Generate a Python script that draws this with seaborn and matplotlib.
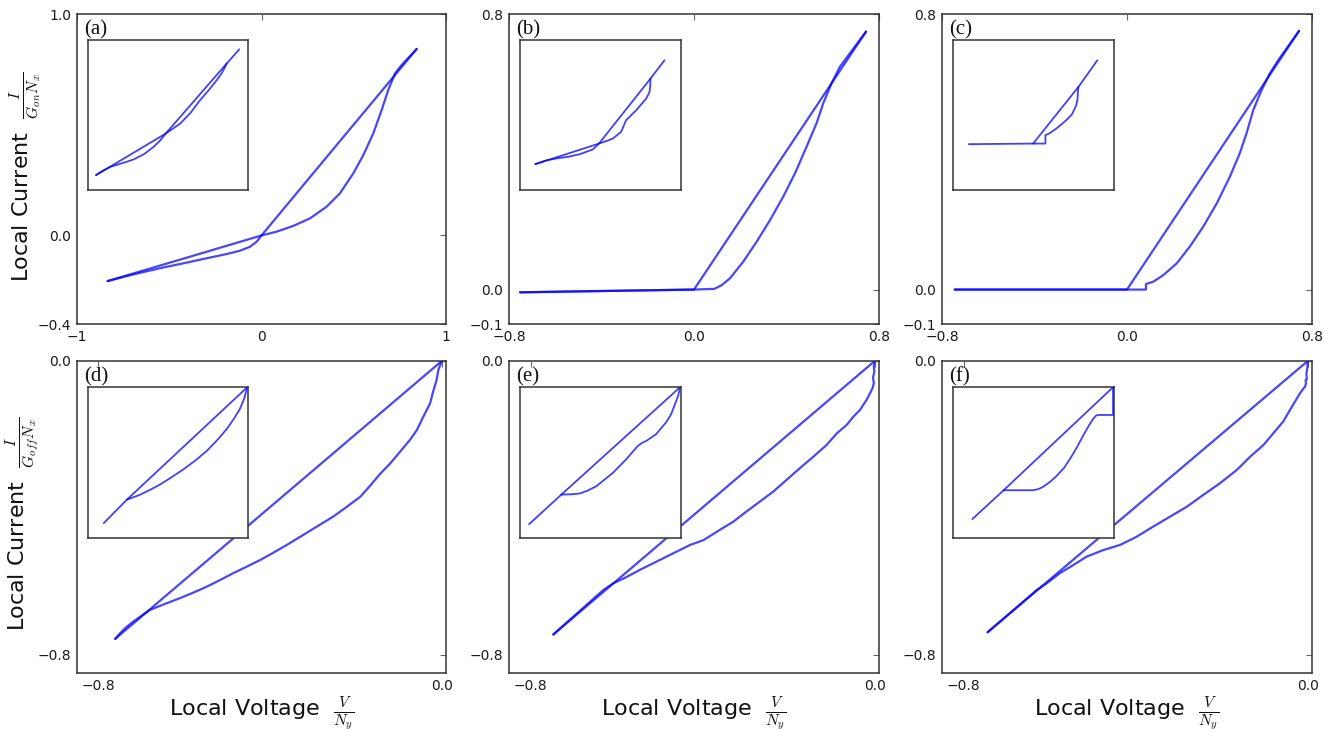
import numpy as np
import matplotlib
matplotlib.use("Agg")
import matplotlib.pyplot as plt
import seaborn as sns

# ---------------- data ----------------
# panel (a)
a_on_x = [0.841, 0.420, 0.0, -0.026, -0.062, -0.117, -0.189, -0.297, -0.424, -0.550, -0.695, -0.834]
a_on_y = [0.842, 0.421, 0.0, -0.028, -0.051, -0.069, -0.084, -0.103, -0.126, -0.148, -0.176, -0.206]
a_off_x = [-0.834, -0.400, 0.0, 0.082, 0.172, 0.263, 0.353, 0.425, 0.498, 0.552, 0.606,
           0.651, 0.687, 0.724, 0.760, 0.841]
a_off_y = [-0.206, -0.099, 0.0, 0.017, 0.043, 0.077, 0.130, 0.190, 0.281, 0.363, 0.461,
           0.566, 0.657, 0.732, 0.770, 0.842]
# panel (b)
b_on_x = [0.744, 0.0, -0.752]
b_on_y = [0.749, 0.0, -0.008]
b_off_x = [-0.752, 0.0, 0.088, 0.120, 0.156, 0.213, 0.271, 0.329, 0.386, 0.437, 0.487,
           0.530, 0.559, 0.595, 0.631, 0.674, 0.744]
b_off_y = [-0.008, 0.0, 0.002, 0.013, 0.033, 0.081, 0.139, 0.202, 0.270, 0.338, 0.415,
           0.483, 0.541, 0.599, 0.647, 0.686, 0.749]
# panel (c)
c_on_x = [0.744, 0.0, -0.745]
c_on_y = [0.751, 0.0, 0.0]
c_off_x = [-0.745, 0.0, 0.082, 0.082, 0.114, 0.157, 0.215, 0.272, 0.330, 0.388, 0.445,
           0.488, 0.517, 0.546, 0.582, 0.618, 0.654, 0.744]
c_off_y = [0.0, 0.0, 0.0, 0.016, 0.023, 0.042, 0.076, 0.125, 0.183, 0.250, 0.328,
           0.396, 0.454, 0.521, 0.579, 0.628, 0.666, 0.751]
# panel (d)
d_on_x = [0.0, -0.761]
d_on_y = [0.0, -0.757]
d_off_x = [-0.761, -0.750, -0.734, -0.719, -0.680, -0.641, -0.610, -0.579, -0.548, -0.517,
           -0.486, -0.454, -0.423, -0.392, -0.361, -0.330, -0.291, -0.253, -0.221, -0.190,
           -0.167, -0.144, -0.120, -0.097, -0.074, -0.058, -0.043, -0.027, -0.019, -0.012,
           -0.008, 0.0]
d_off_y = [-0.757, -0.742, -0.724, -0.710, -0.678, -0.660, -0.646, -0.631, -0.615, -0.597,
           -0.578, -0.560, -0.542, -0.522, -0.501, -0.479, -0.451, -0.424, -0.397, -0.370,
           -0.340, -0.308, -0.279, -0.247, -0.215, -0.188, -0.152, -0.115, -0.079, -0.052,
           -0.025, 0.0]
# panel (e)
e_on_x = [0.0, -0.747]
e_on_y = [0.0, -0.745]
e_off_x = [-0.747, -0.631, -0.608, -0.576, -0.546, -0.515, -0.484, -0.453, -0.429, -0.398,
           -0.360, -0.329, -0.298, -0.267, -0.236, -0.205, -0.174, -0.143, -0.112, -0.088,
           -0.065, -0.050, -0.034, -0.019, -0.007, -0.004, -0.002, -0.004, -0.001, -0.002, 0.0]
e_off_y = [-0.745, -0.624, -0.606, -0.588, -0.569, -0.551, -0.533, -0.515, -0.501, -0.488,
           -0.460, -0.438, -0.410, -0.383, -0.356, -0.324, -0.292, -0.261, -0.229, -0.197,
           -0.174, -0.152, -0.133, -0.106, -0.079, -0.070, -0.060, -0.045, -0.030, -0.015, 0.0]
# panel (f)
f_on_x = [0.0, -0.744]
f_on_y = [0.0, -0.739]
f_off_x = [-0.744, -0.630, -0.607, -0.576, -0.545, -0.514, -0.475, -0.436, -0.398, -0.359,
           -0.320, -0.281, -0.243, -0.204, -0.165, -0.134, -0.103, -0.080, -0.057, -0.041,
           -0.018, -0.010, -0.006, -0.004, -0.005, -0.002, -0.003, -0.001, 0.0]
f_off_y = [-0.739, -0.624, -0.606, -0.578, -0.556, -0.533, -0.515, -0.501, -0.479, -0.451,
           -0.424, -0.397, -0.365, -0.333, -0.297, -0.261, -0.229, -0.197, -0.165, -0.133,
           -0.088, -0.075, -0.070, -0.060, -0.052, -0.050, -0.035, -0.020, 0.0]

# insets (normalised inset units)
ia_1x = [0.050, 0.485, 0.865, 0.944]
ia_1y = [0.100, 0.377, 0.843, 0.938]
ia_2x = [0.050, 0.090, 0.139, 0.210, 0.284, 0.350, 0.409, 0.450, 0.485, 0.530, 0.575,
         0.640, 0.699, 0.755, 0.803, 0.835, 0.855, 0.865]
ia_2y = [0.100, 0.128, 0.155, 0.178, 0.204, 0.240, 0.288, 0.330, 0.377, 0.410, 0.443,
         0.515, 0.599, 0.668, 0.732, 0.780, 0.820, 0.843]
ib_1x = [0.095, 0.491, 0.812, 0.899]
ib_1y = [0.173, 0.310, 0.743, 0.865]
ib_2x = [0.095, 0.160, 0.226, 0.300, 0.371, 0.453, 0.491, 0.540, 0.578, 0.629, 0.660,
         0.723, 0.785, 0.805, 0.810, 0.812]
ib_2y = [0.173, 0.197, 0.211, 0.222, 0.239, 0.271, 0.310, 0.328, 0.344, 0.388, 0.466,
         0.532, 0.610, 0.650, 0.687, 0.743]
ic_1x = [0.098, 0.498, 0.780, 0.898]
ic_1y = [0.306, 0.310, 0.687, 0.865]
ic_2x = [0.498, 0.575, 0.575, 0.600, 0.643, 0.705, 0.740, 0.765, 0.774, 0.778, 0.780]
ic_2y = [0.310, 0.310, 0.366, 0.378, 0.410, 0.466, 0.505, 0.560, 0.599, 0.665, 0.687]
id_1x = [0.098, 0.243, 0.994]
id_1y = [0.100, 0.256, 1.0]
id_2x = [0.243, 0.280, 0.326, 0.390, 0.450, 0.520, 0.595, 0.670, 0.741, 0.805, 0.865,
         0.910, 0.948, 0.975, 0.994]
id_2y = [0.256, 0.270, 0.289, 0.322, 0.356, 0.403, 0.456, 0.515, 0.578, 0.648, 0.722,
         0.790, 0.856, 0.925, 1.0]
ie_1x = [0.056, 0.257, 0.996]
ie_1y = [0.093, 0.289, 1.0]
ie_2x = [0.257, 0.320, 0.371, 0.420, 0.474, 0.578, 0.660, 0.733, 0.760, 0.785, 0.847,
         0.909, 0.940, 0.961, 0.985, 0.996]
ie_2y = [0.289, 0.291, 0.296, 0.315, 0.344, 0.433, 0.522, 0.611, 0.632, 0.644, 0.689,
         0.767, 0.820, 0.878, 0.945, 1.0]
if_1x = [0.120, 0.315, 0.996]
if_1y = [0.127, 0.318, 1.0]
if_2x = [0.315, 0.498, 0.530, 0.560, 0.600, 0.643, 0.690, 0.726, 0.770, 0.809, 0.845,
         0.871, 0.890, 0.902, 0.996, 0.996, 0.996]
if_2y = [0.318, 0.318, 0.325, 0.340, 0.370, 0.411, 0.465, 0.522, 0.600, 0.678, 0.745,
         0.789, 0.812, 0.816, 0.816, 0.944, 1.0]

letters = ["(a)", "(b)", "(c)", "(d)", "(e)", "(f)"]
top_ylabel = r"Local Current  $\frac{I}{G_{on}N_x}$"
bot_ylabel = r"Local Current  $\frac{I}{G_{off}N_x}$"
xlabel_txt = r"Local Voltage  $\frac{V}{N_y}$"

# ---------------- style ----------------
sns.set_style("white")
plt.rcParams["font.family"] = ["DejaVu Sans"]
plt.rcParams["mathtext.fontset"] = "cm"

LINE = "#0000ff"
SPINE = "#333333"

W, H = 1332, 732
fig = plt.figure(figsize=(W / 100, H / 100), dpi=100)


def px_axes(left, top, right, bottom):
    return fig.add_axes([left / W, 1 - bottom / H, (right - left) / W, (bottom - top) / H])


main = [
    px_axes(77, 14, 446, 324), px_axes(509, 14, 879, 324), px_axes(942, 14, 1312, 324),
    px_axes(77, 361, 446, 673), px_axes(509, 361, 879, 673), px_axes(942, 361, 1312, 673),
]

mains_data = [
    (a_on_x, a_on_y, a_off_x, a_off_y),
    (b_on_x, b_on_y, b_off_x, b_off_y),
    (c_on_x, c_on_y, c_off_x, c_off_y),
    (d_on_x, d_on_y, d_off_x, d_off_y),
    (e_on_x, e_on_y, e_off_x, e_off_y),
    (f_on_x, f_on_y, f_off_x, f_off_y),
]
insets_data = [
    (ia_1x, ia_1y, ia_2x, ia_2y),
    (ib_1x, ib_1y, ib_2x, ib_2y),
    (ic_1x, ic_1y, ic_2x, ic_2y),
    (id_1x, id_1y, id_2x, id_2y),
    (ie_1x, ie_1y, ie_2x, ie_2y),
    (if_1x, if_1y, if_2x, if_2y),
]

xlims = [(-1, 1), (-0.8, 0.8), (-0.8, 0.8), (-0.85, 0.01), (-0.85, 0.01), (-0.85, 0.01)]
ylims = [(-0.4, 1.0), (-0.1, 0.8), (-0.1, 0.8), (-0.85, 0.0), (-0.85, 0.0), (-0.85, 0.0)]
xticks = [[-1, 0, 1], [-0.8, 0.0, 0.8], [-0.8, 0.0, 0.8], [-0.8, 0.0], [-0.8, 0.0], [-0.8, 0.0]]
xtlabels = [["\u22121", "0", "1"], ["\u22120.8", "0.0", "0.8"], ["\u22120.8", "0.0", "0.8"],
            ["\u22120.8", "0.0"], ["\u22120.8", "0.0"], ["\u22120.8", "0.0"]]
yticks = [[-0.4, 0.0, 1.0], [-0.1, 0.0, 0.8], [-0.1, 0.0, 0.8], [-0.8, 0.0], [-0.8, 0.0], [-0.8, 0.0]]
ytlabels = [["\u22120.4", "0.0", "1.0"], ["\u22120.1", "0.0", "0.8"], ["\u22120.1", "0.0", "0.8"],
            ["\u22120.8", "0.0"], ["\u22120.8", "0.0"], ["\u22120.8", "0.0"]]

for i, ax in enumerate(main):
    onx, ony, offx, offy = mains_data[i]
    sns.lineplot(x=onx, y=ony, sort=False, estimator=None, ax=ax, color=LINE, lw=1.6, alpha=0.72)
    sns.lineplot(x=offx, y=offy, sort=False, estimator=None, ax=ax, color=LINE, lw=1.6, alpha=0.72)
    ax.set_xlim(*xlims[i])
    ax.set_ylim(*ylims[i])
    ax.set_xticks(xticks[i])
    ax.set_xticklabels(xtlabels[i])
    ax.set_yticks(yticks[i])
    ax.set_yticklabels(ytlabels[i])
    ax.tick_params(direction="in", top=True, right=True, length=4, width=0.8,
                   color="#666666", labelsize=10, labelcolor="#1a1a1a", pad=4)
    for s in ax.spines.values():
        s.set_color(SPINE)
        s.set_linewidth(1.1)
        s.set_visible(True)
    ax.set_xlabel("")
    ax.set_ylabel("")
    ax.text(0.02, 0.98, letters[i], transform=ax.transAxes, ha="left", va="top",
            fontsize=15, family="Liberation Serif", color="#111111")

    # inset
    ins = ax.inset_axes([0.03, 0.432, 0.434, 0.484])
    x1, y1, x2, y2 = insets_data[i]
    sns.lineplot(x=x1, y=y1, sort=False, estimator=None, ax=ins, color=LINE, lw=1.3, alpha=0.75)
    sns.lineplot(x=x2, y=y2, sort=False, estimator=None, ax=ins, color=LINE, lw=1.3, alpha=0.75)
    ins.set_xlim(0, 1)
    ins.set_ylim(0, 1)
    ins.set_xticks([])
    ins.set_yticks([])
    ins.set_xlabel("")
    ins.set_ylabel("")
    for s in ins.spines.values():
        s.set_color(SPINE)
        s.set_linewidth(1.1)
        s.set_visible(True)

# axis labels
main[0].set_ylabel(top_ylabel, fontsize=16, color="#111111")
main[0].yaxis.set_label_coords(-0.089, 0.474)
main[3].set_ylabel(bot_ylabel, fontsize=16, color="#111111")
main[3].yaxis.set_label_coords(-0.095, 0.48)
for ax in main[3:]:
    ax.set_xlabel(xlabel_txt, fontsize=16, color="#111111")
    ax.xaxis.set_label_coords(0.5, -0.068)

fig.savefig("out.png", dpi=100, facecolor="white")
